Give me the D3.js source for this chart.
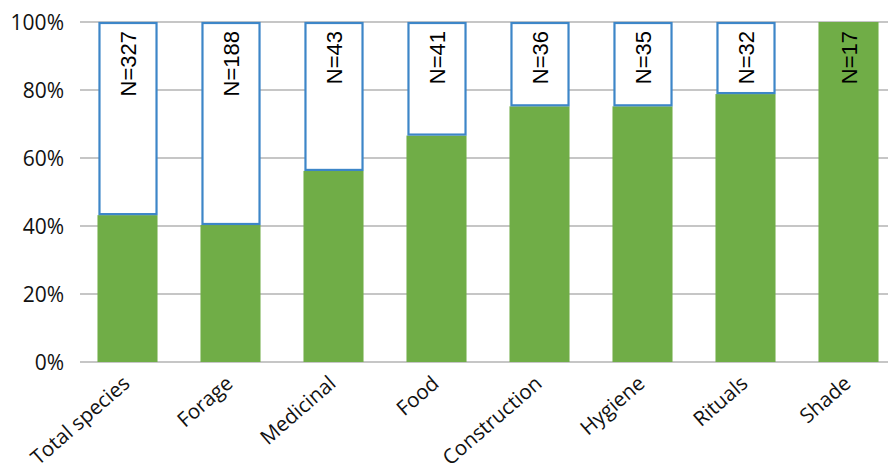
<!DOCTYPE html>
<html>
<head>
<meta charset="utf-8">
<script src="https://cdn.jsdelivr.net/npm/d3@7"></script>
<style>
  body { margin: 0; background: #fff; }
  svg { display: block; }
</style>
</head>
<body>
<svg id="chart" width="888" height="473"></svg>
<script>
const categories = ["Total species", "Forage", "Medicinal", "Food", "Construction", "Hygiene", "Rituals", "Shade"];
const greenShare = [0.432, 0.403, 0.562, 0.666, 0.752, 0.752, 0.788, 1.0];
const nLabels = ["N=327", "N=188", "N=43", "N=41", "N=36", "N=35", "N=32", "N=17"];
const yTicks = [0, 0.2, 0.4, 0.6, 0.8, 1.0];

const svg = d3.select("#chart");
const x = d3.scaleBand().domain(categories).range([76, 900]).paddingInner(0.417).paddingOuter(0.2085);
const y = d3.scaleLinear().domain([0, 1]).range([362, 22]);

// gridlines
svg.append("g").selectAll("line").data(yTicks).join("line")
  .attr("x1", 80).attr("x2", 888)
  .attr("y1", d => y(d)).attr("y2", d => y(d))
  .attr("stroke", "#b3b3b3").attr("stroke-width", 1.4);

// y axis labels
const yAxis = d3.axisLeft(y).tickValues(yTicks).tickFormat(d3.format(".0%")).tickSize(0).tickPadding(0);
const yg = svg.append("g").attr("transform", "translate(64,0)").call(yAxis);
yg.select(".domain").remove();
yg.selectAll("text").attr("font-family", "'Open Sans', sans-serif").attr("font-size", 21).attr("fill", "#111").attr("dy", "0.35em");

const data = categories.map((c, i) => ({ c, g: greenShare[i], n: nLabels[i] }));

// green bars
svg.append("g").selectAll("rect").data(data).join("rect")
  .attr("x", d => x(d.c)).attr("width", x.bandwidth())
  .attr("y", d => y(d.g)).attr("height", d => y(0) - y(d.g))
  .attr("fill", "#70ad47");

// white outlined remainder
svg.append("g").selectAll("rect").data(data.filter(d => d.g < 1)).join("rect")
  .attr("x", d => x(d.c) + 2).attr("width", x.bandwidth() - 3)
  .attr("y", y(1) + 1).attr("height", d => y(d.g) - y(1) - 2)
  .attr("fill", "#fff").attr("stroke", "#3d86c8").attr("stroke-width", 2.2);

// N labels
svg.append("g").selectAll("text").data(data).join("text")
  .attr("transform", d => `translate(${x(d.c) + x.bandwidth() / 2 + 1},${y(1) + 9}) rotate(-90)`)
  .attr("text-anchor", "end").attr("dy", "0.35em")
  .attr("font-family", "'Liberation Sans', Arial, sans-serif").attr("font-size", 22)
  .attr("fill", "#000").text(d => d.n);

// x labels
const xAxis = d3.axisBottom(x).tickSize(0).tickPadding(0);
const xg = svg.append("g").call(xAxis);
xg.select(".domain").remove();
xg.selectAll(".tick").attr("transform", d => `translate(${x(d) + x.bandwidth() / 2 - 1},380)`);
xg.selectAll("text")
  .attr("font-family", "'Open Sans', sans-serif").attr("font-size", 20.5).attr("fill", "#111")
  .attr("text-anchor", "end").attr("y", 0).attr("dy", "0.35em").attr("x", 0)
  .attr("transform", "rotate(-41)");
</script>
</body>
</html>
